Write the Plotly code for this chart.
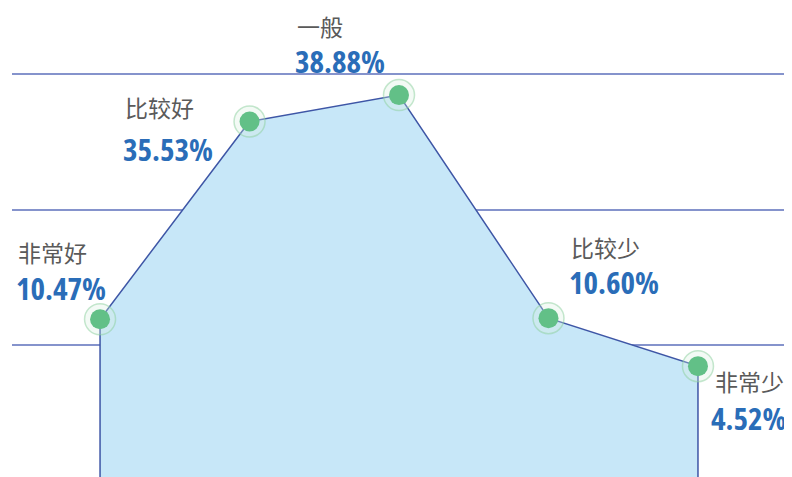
import plotly.graph_objects as go

categories = ["非常好", "比较好", "一般", "比较少", "非常少"]
values = [10.47, 35.53, 38.88, 10.60, 4.52]
value_labels = ["10.47%", "35.53%", "38.88%", "10.60%", "4.52%"]

# styling: label offsets (px) relative to each point
name_off = [(-84, 67), (-127, 15), (-104, 69), (21, 71), (15, -15)]
val_off = [(-86, 31), (-129, -27), (-106, 34), (19, 36), (11, -52)]

Y_LO, Y_HI = -9.53, 50.93
X_LO, X_HI = -0.589, 4.629

xs = list(range(len(categories)))
floor = Y_LO - 2

fig = go.Figure()
# filled area with vertical edges
fig.add_trace(go.Scatter(
    x=[xs[0]] + xs + [xs[-1]],
    y=[floor] + values + [floor],
    mode="lines", fill="toself", fillcolor="#c7e7f8",
    line=dict(color="#3e56a6", width=1.5), hoverinfo="skip"))
# halo rings
fig.add_trace(go.Scatter(
    x=xs, y=values, mode="markers",
    marker=dict(size=31, color="rgba(215,240,222,0.3)",
                line=dict(color="rgba(140,208,158,0.5)", width=1.5)),
    hoverinfo="skip"))
# dots
fig.add_trace(go.Scatter(
    x=xs, y=values, mode="markers",
    marker=dict(size=20, color="#62c087", line=dict(width=0)),
    hoverinfo="skip"))

for i, (c, v, lab) in enumerate(zip(categories, values, value_labels)):
    fig.add_annotation(x=xs[i], y=v, text=c, showarrow=False,
                       xanchor="left", yanchor="middle",
                       xshift=name_off[i][0], yshift=name_off[i][1],
                       font=dict(family="Noto Sans CJK SC", size=23, color="#5a5a5a"))
    fig.add_annotation(x=xs[i], y=v,
                       text='<span style="font-stretch:75%"><b>' + lab + '</b></span>',
                       showarrow=False,
                       xanchor="left", yanchor="middle",
                       xshift=val_off[i][0], yshift=val_off[i][1],
                       font=dict(family="Open Sans", size=31, color="#2a6db8"))

# page body has an 8px margin: size the figure so the plot fills the window
fig.update_layout(
    width=784, height=469,
    margin=dict(l=4, r=0, t=0, b=0),
    paper_bgcolor="white", plot_bgcolor="white",
    showlegend=False,
    xaxis=dict(range=[X_LO, X_HI], showgrid=False, zeroline=False,
               showticklabels=False, ticks="", showline=False),
    yaxis=dict(range=[Y_LO, Y_HI - (Y_HI - Y_LO) * 8 / 477], tick0=7.2, dtick=17.17,
               showgrid=True, gridcolor="#8593cc", gridwidth=1.5, zeroline=False,
               showticklabels=False, ticks="", showline=False),
)

fig.write_html("out.html")
